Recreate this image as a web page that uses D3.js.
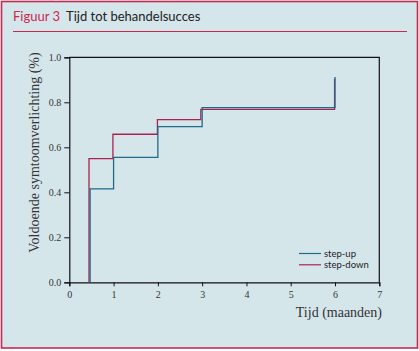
<!DOCTYPE html>
<html>
<head>
<meta charset="utf-8">
<script src="https://cdn.jsdelivr.net/npm/d3@7"></script>
<style>
  html, body { margin: 0; padding: 0; background: #fff; }
  svg { display: block; }
</style>
</head>
<body>
<svg id="chart"></svg>
<script>
// event times (months) and cumulative proportion with sufficient relief
var stepUpTimes = [0.47, 1, 2, 3, 6];
var stepUpValues = [0.415, 0.555, 0.692, 0.776, 0.912];
var stepDownTimes = [0.445, 0.985, 1.99, 2.97, 5.99];
var stepDownValues = [0.55, 0.658, 0.723, 0.769, 0.905];
var xTicks = [0, 1, 2, 3, 4, 5, 6, 7];
var yTicks = [0, 0.2, 0.4, 0.6, 0.8, 1.0];
var seriesNames = ['step-up', 'step-down'];

var width = 419, height = 351;
var blue = '#1d6b88', red = '#ad2150', frame = '#c9294f';

var svg = d3.select('#chart').attr('width', width).attr('height', height);

svg.append('rect')
    .attr('x', 1.5).attr('y', 1.5)
    .attr('width', width - 3).attr('height', height - 4.5)
    .attr('fill', '#d5e6eb')
    .attr('stroke', frame)
    .attr('stroke-width', 1.6);

var title = svg.append('text')
    .attr('x', 13).attr('y', 21)
    .attr('font-family', 'Lato, sans-serif')
    .attr('font-size', 13);
title.append('tspan').attr('fill', frame).text('Figuur 3');
title.append('tspan').attr('dx', 6).attr('fill', '#222').text('Tijd tot behandelsucces');

svg.append('line')
    .attr('x1', 13).attr('x2', 407)
    .attr('y1', 31.5).attr('y2', 31.5)
    .attr('stroke', frame).attr('stroke-width', 1.2);

var scaleX = d3.scaleLinear().domain([0, 7]).range([69.3, 379.3]);
var scaleY = d3.scaleLinear().domain([0, 1]).range([282.3, 57.3]);

var chart = svg.append('g');

// frame of plot (top and right)
chart.append('path')
    .attr('d', 'M' + scaleX(0) + ',' + scaleY(1) + 'H' + scaleX(7) + 'V' + scaleY(0))
    .attr('fill', 'none')
    .attr('stroke', '#111')
    .attr('stroke-width', 1.2);

var xAxis = chart.append('g')
    .attr('transform', 'translate(0,' + scaleY(0) + ')')
    .call(d3.axisBottom(scaleX).tickValues(xTicks).tickSize(4).tickPadding(5).tickFormat(d3.format('d')));

var yAxis = chart.append('g')
    .attr('transform', 'translate(' + scaleX(0) + ',0)')
    .call(d3.axisLeft(scaleY).tickValues(yTicks).tickSize(5).tickPadding(3).tickFormat(d3.format('.1f')));

[xAxis, yAxis].forEach(function (ax) {
    ax.select('.domain').attr('stroke', '#111').attr('stroke-width', 1.2);
    ax.selectAll('.tick line').attr('stroke', '#111').attr('stroke-width', 1);
    ax.selectAll('.tick text')
        .attr('fill', '#333')
        .attr('font-family', '"Liberation Serif", serif')
        .attr('font-size', 10);
});

var line = d3.line()
    .x(function (d) { return scaleX(d[0]); })
    .y(function (d) { return scaleY(d[1]); })
    .curve(d3.curveStepAfter);

function stepPoints(times, values) {
    var pts = [[times[0], 0]];
    times.forEach(function (t, i) { pts.push([t, values[i]]); });
    return pts;
}

chart.append('path')
    .datum(stepPoints(stepDownTimes, stepDownValues))
    .attr('d', line)
    .attr('fill', 'none')
    .attr('stroke', red)
    .attr('stroke-width', 1.3);

chart.append('path')
    .datum(stepPoints(stepUpTimes, stepUpValues))
    .attr('d', line)
    .attr('fill', 'none')
    .attr('stroke', blue)
    .attr('stroke-width', 1.3);

// legend
var legend = chart.append('g').attr('transform', 'translate(299,253.5)');
[blue, red].forEach(function (c, i) {
    var row = legend.append('g').attr('transform', 'translate(0,' + (i * 11.3) + ')');
    row.append('line').attr('x1', 0).attr('x2', 22).attr('stroke', c).attr('stroke-width', 1.2);
    row.append('text')
        .attr('x', 25).attr('y', 3.5)
        .attr('font-family', 'Lato, sans-serif')
        .attr('font-size', 9.5)
        .attr('fill', '#222')
        .text(seriesNames[i]);
});

// axis titles
svg.append('text')
    .attr('text-anchor', 'end')
    .attr('x', 382).attr('y', 317)
    .attr('font-family', '"Liberation Serif", serif')
    .attr('font-size', 14)
    .attr('fill', '#333')
    .text('Tijd (maanden)');

svg.append('text')
    .attr('text-anchor', 'middle')
    .attr('transform', 'translate(39,152.5)rotate(-90)')
    .attr('font-family', '"Liberation Serif", serif')
    .attr('font-size', 14)
    .attr('fill', '#333')
    .text('Voldoende symtoomverlichting (%)');
</script>
</body>
</html>
